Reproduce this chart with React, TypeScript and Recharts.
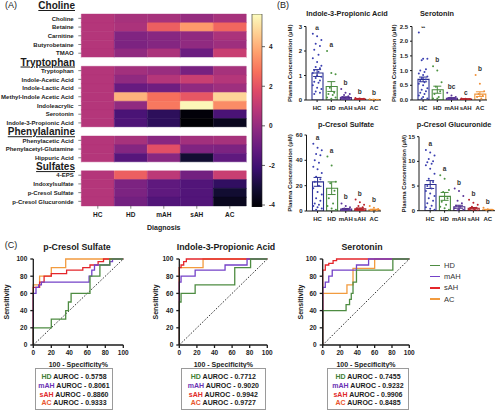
import React from "react";
import {
  BarChart,
  Bar,
  Cell,
  XAxis,
  YAxis,
  ComposedChart,
  Scatter,
  ErrorBar,
  LineChart,
  Line,
  Legend,
  Label,
} from "recharts";

const FONT = "'Liberation Sans', Arial, Helvetica, sans-serif";
const INK = "#1b1b1b";

const groups = ["HC", "HD", "mAH", "sAH", "AC"];

// ---------- (A) heatmap ----------
const cholineRows = ["Choline", "Betaine", "Carnitine", "Butyrobetaine", "TMAO"];
const tryptophanRows = [
  "Tryptophan",
  "Indole-Acetic Acid",
  "Indole-Lactic Acid",
  "Methyl-Indole Acetic Acid",
  "Indoleacrylic",
  "Serotonin",
  "Indole-3-Propionic Acid",
];
const phenylalanineRows = ["Phenylacetic Acid", "Phenylacetyl-Glutamine", "Hippuric Acid"];
const sulfateRows = ["4-EPS", "Indoxylsulfate", "p-Cresol Sulfate", "p-Cresol Glucuronide"];

// one value per metabolite, same order as the row lists above
const heatHC = [0.7, 0.7, 0.7, 0.7, 0.7, 0.7, 0.7, 0.7, 0.7, 0.7, 0.7, 0.7, 0.7, 0.7, 0.7, 0.7, 0.7, 0.7, 0.7];
const heatHD = [0.4, 0.5, -0.5, -0.6, -0.1, 0.3, -0.1, -1.1, 4.1, -0.1, -1.8, -1.7, 0.4, -0.4, -1.5, 2.3, -0.6, -0.6, -0.8];
const heatMAH = [0.4, 2.3, -0.3, -0.4, 0.5, 0.1, 0.7, -0.9, 2.7, 2.9, -2.5, -2.5, -0.3, 1.9, -0.3, 0.9, -1.3, -1.3, -1.6];
const heatSAH = [0.0, 3.6, -0.1, -0.1, -1.0, -0.7, 1.2, -0.1, 2.1, 5.5, -4.0, -4.1, 0.3, -0.5, -3.2, -0.8, -1.6, -1.6, -1.6];
const heatAC = [0.4, 2.5, 0.5, 0.2, 1.2, 0.4, 0.7, 0.2, 4.8, 3.3, -1.8, -3.6, 0.4, -0.6, -1.3, 1.2, -2.4, -3.2, -3.6];

const colorbarTicks = [-4, -2, 0, 2, 4];
const CB_LO = -4.1;
const CB_HI = 5.65;

const MAGMA = [
  "#000004", "#140e36", "#3b0f70", "#641a80", "#8c2981", "#b73779",
  "#de4968", "#f7705c", "#fe9f6d", "#fecf92", "#fcfdbf",
];

function hexToRgb(h: string) {
  return [1, 3, 5].map((i) => parseInt(h.slice(i, i + 2), 16));
}

function magma(v: number) {
  const t = Math.max(0, Math.min(1, (v - CB_LO) / (CB_HI - CB_LO)));
  const p = t * 10;
  const i = Math.min(9, Math.floor(p));
  const f = p - i;
  const a = hexToRgb(MAGMA[i]);
  const b = hexToRgb(MAGMA[i + 1]);
  const c = a.map((x, k) => Math.round(x + (b[k] - x) * f));
  return `rgb(${c[0]},${c[1]},${c[2]})`;
}

const headers = new Set(["Tryptophan ", "Phenylalanine", "Sulfates"]);

type HRow = { name: string; header: boolean; idx: number };
const hmRows: HRow[] = [];
{
  let k = 0;
  const push = (list: string[]) => list.forEach((n) => hmRows.push({ name: n, header: false, idx: k++ }));
  push(cholineRows);
  hmRows.push({ name: "Tryptophan ", header: true, idx: -1 });
  push(tryptophanRows);
  hmRows.push({ name: "Phenylalanine", header: true, idx: -1 });
  push(phenylalanineRows);
  hmRows.push({ name: "Sulfates", header: true, idx: -1 });
  push(sulfateRows);
}
const heatCols = [heatHC, heatHD, heatMAH, heatSAH, heatAC];
const hmData = hmRows.map((r) => ({ name: r.name, c0: 1, c1: 1, c2: 1, c3: 1, c4: 1 }));

function HeatTick(props: any) {
  const { x, y, payload } = props;
  const name = String(payload.value);
  if (headers.has(name)) {
    return (
      <text x={x - 1.3} y={y} dy="0.36em" textAnchor="end" fontSize={10} fontWeight={700}
        fontFamily={FONT} fill={INK} textDecoration="underline">
        {name.trim()}
      </text>
    );
  }
  return (
    <g>
      <line x1={x + 2} x2={x + 5} y1={y} y2={y} stroke="#333" strokeWidth={0.6} />
      <text x={x - 2.6} y={y} dy="0.36em" textAnchor="end" fontSize={6} fontWeight={700}
        fontFamily={FONT} fill={INK}>
        {name}
      </text>
    </g>
  );
}

function Heatmap() {
  return (
    <div style={{ position: "absolute", left: 0, top: 0 }}>
      <BarChart width={250} height={235} layout="vertical" data={hmData} barCategoryGap={0}
        margin={{ top: 14, right: 3.7, bottom: 4.3, left: 0 }}>
        <XAxis type="number" domain={[0, 5]} ticks={[0.5, 1.5, 2.5, 3.5, 4.5]}
          tickFormatter={(v) => groups[Math.floor(v)]} axisLine={false}
          tickLine={{ stroke: "#333", strokeWidth: 0.6 }} tickSize={3} tickMargin={4} height={25}
          tick={{ fontSize: 6.5, fontWeight: 700, fill: INK, fontFamily: FONT }}>
          <Label value="Diagnosis" position="insideBottom" offset={1}
            style={{ fontSize: 7, fontWeight: 700, fill: INK, fontFamily: FONT }} />
        </XAxis>
        <YAxis type="category" dataKey="name" width={81.3} axisLine={false} tickLine={false}
          interval={0} tickSize={3} tickMargin={2} tick={<HeatTick />} />
        {groups.map((g, ci) => (
          <Bar key={g} dataKey={`c${ci}`} stackId="h" isAnimationActive={false}>
            {hmRows.map((r, ri) => {
              const col = r.header ? "#ffffff" : magma(heatCols[ci][r.idx]);
              return <Cell key={ri} fill={col} stroke={col} strokeWidth={0.4} />;
            })}
          </Bar>
        ))}
      </BarChart>
    </div>
  );
}

function Colorbar() {
  const stops = MAGMA.map((c, i) => <stop key={i} offset={`${i * 10}%`} stopColor={c} />);
  return (
    <div style={{ position: "absolute", left: 240, top: 0 }}>
      <BarChart width={45} height={215} data={[{ k: "z", r: [CB_LO, CB_HI] }]} barCategoryGap={0}
        margin={{ top: 14, right: 0, bottom: 8, left: 12 }}>
        <defs>
          <linearGradient id="magmaGrad" x1="0" y1="1" x2="0" y2="0">
            {stops}
          </linearGradient>
        </defs>
        <XAxis dataKey="k" hide />
        <YAxis orientation="right" type="number" domain={[CB_LO, CB_HI]} ticks={colorbarTicks}
          allowDataOverflow width={23} axisLine={false} tickSize={3} tickMargin={4}
          tickLine={{ stroke: "#222", strokeWidth: 0.7 }}
          tick={{ fontSize: 6.5, fontWeight: 700, fill: INK, fontFamily: FONT }} />
        <Bar dataKey="r" fill="url(#magmaGrad)" stroke="#222" strokeWidth={0.6} isAnimationActive={false} />
      </BarChart>
    </div>
  );
}

// ---------- (B) plasma concentration bars ----------
const barColors = ["#2d3192", "#4a8a3f", "#4b2c87", "#a8202a", "#ef973c"];
const dotColors = ["#3a3fb0", "#4d9442", "#5a3598", "#b8232b", "#f0913a"];

const ipaMeans = [1.1, 0.55, 0.1, 0.04, 0.015];
const ipaSems = [0.14, 0.2, 0.03, 0.01, 0.005];
const ipaHC = [2.7, 2.6, 2.45, 2.3, 2.2, 2.05, 1.85, 1.7, 1.55, 1.4, 1.35, 1.3, 1.2, 1.15, 1.1, 1.0, 0.95, 0.9, 0.8, 0.75, 0.7, 0.6, 0.5, 0.45, 0.35, 0.3, 0.25];
const ipaHD = [2.0, 1.1, 1.05, 0.5, 0.3, 0.25, 0.2, 0.1, 0.05, 0.1];
const ipaMAH = [0.45, 0.3, 0.25, 0.2, 0.15, 0.12, 0.1, 0.08, 0.06, 0.05, 0.04, 0.03, 0.02, 0.02, 0.1];
const ipaSAH = [0.08, 0.06, 0.05, 0.04, 0.03, 0.03, 0.02, 0.02, 0.01, 0.01, 0.05];
const ipaAC = [0.03, 0.02, 0.01, 0.01, 0.01];
const ipaLetters = ["a", "a", "b", "b", "b"];

const serMeans = [0.7, 0.35, 0.06, 0.03, 0.2];
const serSems = [0.08, 0.12, 0.02, 0.01, 0.08];
const serHC = [2.3, 1.4, 1.4, 1.35, 1.05, 1.0, 0.95, 0.9, 0.85, 0.8, 0.75, 0.7, 0.65, 0.6, 0.55, 0.5, 0.4, 0.35, 0.3, 0.25, 0.2, 0.15, 0.1, 0.05, 0.05];
const serHD = [1.15, 1.0, 0.6, 0.45, 0.3, 0.2, 0.1, 0.05, 0.05, 0.0];
const serMAH = [0.25, 0.15, 0.1, 0.08, 0.06, 0.05, 0.04, 0.03, 0.02, 0.02, 0.01, 0.01];
const serSAH = [0.05, 0.04, 0.03, 0.03, 0.02, 0.02, 0.01, 0.01];
const serAC = [0.85, 0.55, 0.3, 0.2, 0.15, 0.1, 0.05];
const serLetters = ["a", "b", "bc", "c", "b"];

const pcsMeans = [23, 18, 1.5, 1.8, 1.0];
const pcsSems = [3.5, 5, 0.5, 0.6, 0.4];
const pcsHC = [53, 50, 48, 45, 44, 40, 38, 35, 33, 30, 27, 25, 23, 20, 18, 15, 13, 10, 8, 6, 5, 4, 3, 2, 1];
const pcsHD = [43, 36, 23, 22, 16, 10, 6, 4, 2, 1];
const pcsMAH = [6, 4, 3, 2, 1.5, 1, 0.8, 0.5, 0.3, 0.2, 0.1];
const pcsSAH = [9, 7, 5, 4, 3, 2, 1.5, 1, 0.8, 0.5, 0.3, 0.2, 0.1, 0.1];
const pcsAC = [4, 2.5, 1.5, 1, 0.5, 0.2];
const pcsLetters = ["a", "a", "b", "b", "b"];

const pcgMeans = [5.3, 2.9, 0.8, 0.5, 0.2];
const pcgSems = [0.8, 0.8, 0.3, 0.15, 0.08];
const pcgHC = [12.3, 11.8, 11.2, 10.5, 10.0, 9.8, 9.5, 9.2, 8.5, 7.5, 6.5, 5.8, 5.0, 4.5, 4.0, 3.5, 3.0, 2.5, 2.0, 1.5, 1.0, 0.7, 0.4, 0.2];
const pcgHD = [7.2, 6.5, 4.2, 3.8, 2.5, 1.8, 1.2, 0.8, 0.5, 0.2];
const pcgMAH = [4.5, 4.0, 3.0, 2.0, 1.5, 1.0, 0.8, 0.5, 0.3, 0.2, 0.1];
const pcgSAH = [2.2, 1.6, 1.2, 0.8, 0.6, 0.4, 0.3, 0.2, 0.1, 0.1];
const pcgAC = [0.6, 0.3, 0.2, 0.1];
const pcgLetters = ["a", "a", "b", "b", "b"];

type Box = { left: number; top: number; width: number; height: number };
type BarPanelProps = {
  means: number[];
  sems: number[];
  dots: number[][];
  letters: string[];
  yMax: number;
  yTicks: number[];
  fmt?: (v: number) => string;
  box: Box;
  plotTop: number;
  plotBottom: number;
  axisX: number;
  plotRight: number;
  labelDx: number;
};

function jitter(gi: number, k: number) {
  return gi + (((k * 3) % 7) - 3) * 0.1;
}

function BarPanel(p: BarPanelProps) {
  const { box } = p;
  const axisH = 16;
  const margin = {
    top: p.plotTop - box.top,
    right: box.left + box.width - p.plotRight,
    bottom: box.top + box.height - p.plotBottom - axisH,
    left: 0,
  };
  const yAxisW = p.axisX - box.left;
  const barData = groups.map((g, i) => ({ g, mean: p.means[i] }));
  const tickStyle = { fontSize: 6, fontWeight: 700, fill: INK, fontFamily: FONT };
  const letterData = groups.map((g, i) => ({ x: i, v: Math.max(...p.dots[i]), t: p.letters[i] }));
  return (
    <div style={{ position: "absolute", left: box.left, top: box.top }}>
      <ComposedChart width={box.width} height={box.height} data={barData} margin={margin}>
        <XAxis xAxisId="cat" dataKey="g" type="category" height={axisH} padding={{ left: 4, right: 0 }}
          interval={0} tick={tickStyle} tickSize={2} tickMargin={4}
          axisLine={{ stroke: INK }} tickLine={{ stroke: INK }} />
        <XAxis xAxisId="num" dataKey="x" type="number" domain={[-0.5, 4.5]} allowDataOverflow hide
          padding={{ left: 4, right: 0 }} />
        <YAxis type="number" domain={[0, p.yMax]} ticks={p.yTicks} allowDataOverflow width={yAxisW}
          tickFormatter={p.fmt} tick={tickStyle} tickSize={2} tickMargin={2}
          axisLine={{ stroke: INK }} tickLine={{ stroke: INK }}>
          <Label value="Plasma Concentration (µM)" angle={-90} position="center" dx={p.labelDx}
            style={{ fontSize: 6, fontWeight: 700, fill: INK, fontFamily: FONT }} />
        </YAxis>
        <Bar xAxisId="cat" dataKey="mean" barSize={11} isAnimationActive={false}>
          {groups.map((g, i) => (
            <Cell key={g} fill="none" stroke={barColors[i]} strokeWidth={1.1} />
          ))}
        </Bar>
        {groups.map((g, i) => (
          <Scatter key={"d" + g} xAxisId="num" dataKey="v" isAnimationActive={false}
            data={p.dots[i].map((v, k) => ({ x: jitter(i, k), v }))}
            shape={(s: any) => <circle cx={s.cx} cy={s.cy} r={1} fill={dotColors[i]} />} />
        ))}
        {groups.map((g, i) => (
          <Scatter key={"e" + g} xAxisId="num" dataKey="v" isAnimationActive={false}
            data={[{ x: i, v: p.means[i], e: p.sems[i] }]} shape={() => <g />}>
            <ErrorBar dataKey="e" direction="y" width={4} stroke={barColors[i]} strokeWidth={1} />
          </Scatter>
        ))}
        <Scatter xAxisId="num" dataKey="v" data={letterData} isAnimationActive={false}
          shape={(s: any) => (
            <text x={s.cx} y={s.cy - 4} textAnchor="middle" fontSize={6.5} fontWeight={700}
              fontFamily={FONT} fill="#333">
              {s.payload.t}
            </text>
          )} />
      </ComposedChart>
    </div>
  );
}

// ---------- (C) ROC curves ----------
const rocNames = ["HD", "mAH", "sAH", "AC"];
const rocColors = ["#4e8c42", "#7442c8", "#e4262b", "#f29b3f"];
const rocLabelColors = ["#3f8035", "#6a32b4", "#df2a2a", "#e8542c"];
const rocTicks = [0, 20, 40, 60, 80, 100];
const diagonal = [[0, 0], [100, 100]];

const pcsRocHD = [[0, 0], [0, 20], [20, 20], [20, 30], [36, 30], [36, 40], [39, 40], [39, 50], [42, 50], [42, 60], [63, 60], [63, 80], [74, 80], [74, 93], [85, 93], [85, 100], [100, 100]];
const pcsRocMAH = [[0, 0], [0, 60], [3, 60], [3, 67], [6, 67], [6, 70], [9, 70], [9, 73], [62, 73], [62, 80], [65, 80], [65, 87], [68, 87], [68, 93], [85, 93], [85, 97], [88, 97], [88, 100], [100, 100]];
const pcsRocSAH = [[0, 0], [0, 67], [7, 67], [7, 73], [12, 73], [12, 80], [20, 80], [20, 83], [37, 83], [37, 87], [55, 87], [55, 90], [63, 90], [63, 93], [72, 93], [72, 97], [78, 97], [78, 100], [100, 100]];
const pcsRocAC = [[0, 0], [0, 70], [7, 70], [7, 80], [20, 80], [20, 90], [36, 90], [36, 100], [100, 100]];
const pcsAuroc = ["0.5758", "0.8061", "0.8860", "0.9333"];

const ipaRocHD = [[0, 0], [0, 50], [2, 50], [2, 60], [18, 60], [18, 70], [63, 70], [63, 90], [81, 90], [81, 100], [100, 100]];
const ipaRocMAH = [[0, 0], [0, 73], [2, 73], [2, 80], [18, 80], [18, 87], [52, 87], [52, 93], [77, 93], [77, 100], [100, 100]];
const ipaRocSAH = [[0, 0], [0, 90], [2, 90], [2, 93], [5, 93], [5, 97], [8, 97], [8, 100], [100, 100]];
const ipaRocAC = [[0, 0], [0, 90], [27, 90], [27, 100], [100, 100]];
const ipaAuroc = ["0.7712", "0.9020", "0.9942", "0.9727"];

const serRocHD = [[0, 0], [0, 40], [27, 40], [27, 47], [31, 47], [31, 53], [33, 53], [33, 60], [35, 60], [35, 73], [39, 73], [39, 87], [81, 87], [81, 100], [100, 100]];
const serRocMAH = [[0, 0], [0, 67], [3, 67], [3, 73], [7, 73], [7, 80], [11, 80], [11, 87], [39, 87], [39, 93], [53, 93], [53, 100], [100, 100]];
const serRocSAH = [[0, 0], [0, 87], [3, 87], [3, 93], [7, 93], [7, 95], [12, 95], [12, 98], [16, 98], [16, 100], [100, 100]];
const serRocAC = [[0, 0], [0, 60], [28, 60], [28, 70], [35, 70], [35, 89], [60, 89], [60, 100], [100, 100]];
const serAuroc = ["0.7455", "0.9232", "0.9906", "0.8485"];

type RocProps = {
  curves: number[][][];
  box: Box;
  axisX: number;
  plotRight: number;
  labelDx: number;
  legend?: boolean;
};

const PLOT_TOP = 259;
const PLOT_BOTTOM = 345;

function RocPanel(p: RocProps) {
  const { box } = p;
  const xAxisH = 24;
  const margin = {
    top: PLOT_TOP - box.top,
    right: box.left + box.width - p.plotRight,
    bottom: box.top + box.height - PLOT_BOTTOM - xAxisH,
    left: 0,
  };
  const tickStyle = { fontSize: 6.5, fontWeight: 700, fill: INK, fontFamily: FONT };
  const axisStyle = { stroke: INK, strokeWidth: 1.3 };
  const toPts = (c: number[][]) => c.map(([x, y]) => ({ x, y }));
  // drawn AC first so that HD ends up on top, as in the figure
  const order = [3, 2, 1, 0];
  return (
    <div style={{ position: "absolute", left: box.left, top: box.top }}>
      <LineChart width={box.width} height={box.height} margin={margin}>
        <XAxis type="number" dataKey="x" domain={[0, 100]} ticks={rocTicks} height={xAxisH}
          tick={tickStyle} tickSize={3} tickMargin={2} axisLine={axisStyle} tickLine={axisStyle}>
          <Label value="100 - Specificity%" position="insideBottom" offset={2}
            style={{ fontSize: 7, fontWeight: 700, fill: INK, fontFamily: FONT }} />
        </XAxis>
        <YAxis type="number" domain={[0, 100]} ticks={rocTicks} width={p.axisX - box.left}
          tick={tickStyle} tickSize={3} tickMargin={3} axisLine={axisStyle} tickLine={axisStyle}>
          <Label value="Sensitivity" angle={-90} position="center" dx={p.labelDx}
            style={{ fontSize: 7, fontWeight: 700, fill: INK, fontFamily: FONT }} />
        </YAxis>
        <Line data={toPts(diagonal)} dataKey="y" stroke="#333" strokeWidth={1}
          strokeDasharray="1.6 1.6" dot={false} legendType="none" isAnimationActive={false} />
        {order.map((i) => (
          <Line key={rocNames[i]} name={rocNames[i]} data={toPts(p.curves[i])} dataKey="y"
            stroke={rocColors[i]} strokeWidth={1.3} dot={false} isAnimationActive={false} />
        ))}
        {p.legend && (
          <Legend layout="vertical" align="center" verticalAlign="middle"
            wrapperStyle={{ left: 140, top: 20, width: 50 }}
            content={() => (
              <div style={{ fontFamily: FONT, fontSize: 7.5, color: "#333" }}>
                {rocNames.map((n, i) => (
                  <div key={n} style={{ display: "flex", alignItems: "center", height: 11.2 }}>
                    <span style={{ display: "inline-block", width: 10, height: 1.4,
                      background: rocColors[i], marginRight: 4 }} />
                    {n}
                  </div>
                ))}
              </div>
            )} />
        )}
      </LineChart>
    </div>
  );
}

function AurocBox({ left, width, values }: { left: number; width: number; values: string[] }) {
  return (
    <div style={{
      position: "absolute", left, top: 368.3, width, height: 41.5, boxSizing: "border-box",
      border: "1.2px solid #9a9a9a", fontFamily: FONT, fontSize: 7, fontWeight: 700,
      color: INK, paddingTop: 4.2, textAlign: "center", lineHeight: "8.6px",
    }}>
      {rocNames.map((n, i) => (
        <div key={n} style={{ whiteSpace: "nowrap" }}>
          <span style={{ color: rocLabelColors[i] }}>{n}</span> AUROC - {values[i]}
        </div>
      ))}
    </div>
  );
}

function T(props: {
  x: number; y: number; size: number; bold?: boolean; anchor?: "start" | "middle" | "end";
  underline?: boolean; children: React.ReactNode;
}) {
  const { x, y, size, bold, anchor = "middle", underline, children } = props;
  const tx = anchor === "middle" ? "-50%" : anchor === "end" ? "-100%" : "0";
  return (
    <div style={{
      position: "absolute", left: x, top: y, transform: `translate(${tx}, -50%)`,
      fontSize: size, fontWeight: bold ? 700 : 400, fontFamily: FONT, color: INK,
      whiteSpace: "nowrap", lineHeight: 1, textDecoration: underline ? "underline" : undefined,
    }}>
      {children}
    </div>
  );
}

export default function App() {
  const fixed1 = (v: number) => v.toFixed(1);
  return (
    <div style={{ position: "absolute", left: 0, top: 0, width: 500, height: 412,
      background: "#fff", overflow: "hidden" }}>
      <T x={11} y={5} size={9}>(A)</T>
      <T x={283} y={5} size={9}>(B)</T>
      <T x={11} y={245} size={9}>(C)</T>

      <Heatmap />
      <T x={75} y={6} size={10} bold anchor="end" underline>Choline</T>
      <Colorbar />

      <T x={347} y={14} size={7.3} bold>Indole-3-Propionic Acid</T>
      <T x={437} y={14} size={7.3} bold>Serotonin</T>
      <T x={346} y={125} size={7.3} bold>p-Cresol Sulfate</T>
      <T x={454} y={125} size={7.3} bold>p-Cresol Glucuronide</T>

      <BarPanel means={ipaMeans} sems={ipaSems} dots={[ipaHC, ipaHD, ipaMAH, ipaSAH, ipaAC]}
        letters={ipaLetters} yMax={3} yTicks={[0, 1, 2, 3]}
        box={{ left: 268, top: 8, width: 116, height: 112 }} plotTop={26.5} plotBottom={100}
        axisX={306} plotRight={381} labelDx={3} />
      <BarPanel means={serMeans} sems={serSems} dots={[serHC, serHD, serMAH, serSAH, serAC]}
        letters={serLetters} yMax={2.5} yTicks={[0, 0.5, 1, 1.5, 2, 2.5]} fmt={fixed1}
        box={{ left: 380, top: 8, width: 110, height: 112 }} plotTop={26.5} plotBottom={100}
        axisX={412} plotRight={487} labelDx={-2.5} />
      <BarPanel means={pcsMeans} sems={pcsSems} dots={[pcsHC, pcsHD, pcsMAH, pcsSAH, pcsAC]}
        letters={pcsLetters} yMax={60} yTicks={[0, 20, 40, 60]}
        box={{ left: 268, top: 128, width: 116, height: 102 }} plotTop={135} plotBottom={211}
        axisX={306.5} plotRight={381} labelDx={3} />
      <BarPanel means={pcgMeans} sems={pcgSems} dots={[pcgHC, pcgHD, pcgMAH, pcgSAH, pcgAC]}
        letters={pcgLetters} yMax={15} yTicks={[0, 5, 10, 15]}
        box={{ left: 380, top: 128, width: 118, height: 102 }} plotTop={136.7} plotBottom={210.7}
        axisX={419} plotRight={495} labelDx={4.5} />

      <T x={77} y={247} size={8.8} bold>p-Cresol Sulfate</T>
      <T x={226} y={247} size={8.8} bold>Indole-3-Propionic Acid</T>
      <T x={362} y={247} size={8.8} bold>Serotonin</T>

      <RocPanel curves={[pcsRocHD, pcsRocMAH, pcsRocSAH, pcsRocAC]}
        box={{ left: 0, top: 240, width: 130, height: 130 }} axisX={33.3} plotRight={123.3} labelDx={-10.5} />
      <RocPanel curves={[ipaRocHD, ipaRocMAH, ipaRocSAH, ipaRocAC]}
        box={{ left: 145, top: 240, width: 130, height: 130 }} axisX={179.3} plotRight={267.3} labelDx={-7} />
      <RocPanel curves={[serRocHD, serRocMAH, serRocSAH, serRocAC]}
        box={{ left: 290, top: 240, width: 125, height: 130 }} axisX={322.7} plotRight={409.3} labelDx={-6}
        legend />

      <AurocBox left={35} width={78} values={pcsAuroc} />
      <AurocBox left={180.7} width={85.3} values={ipaAuroc} />
      <AurocBox left={326.7} width={82.6} values={serAuroc} />
    </div>
  );
}
